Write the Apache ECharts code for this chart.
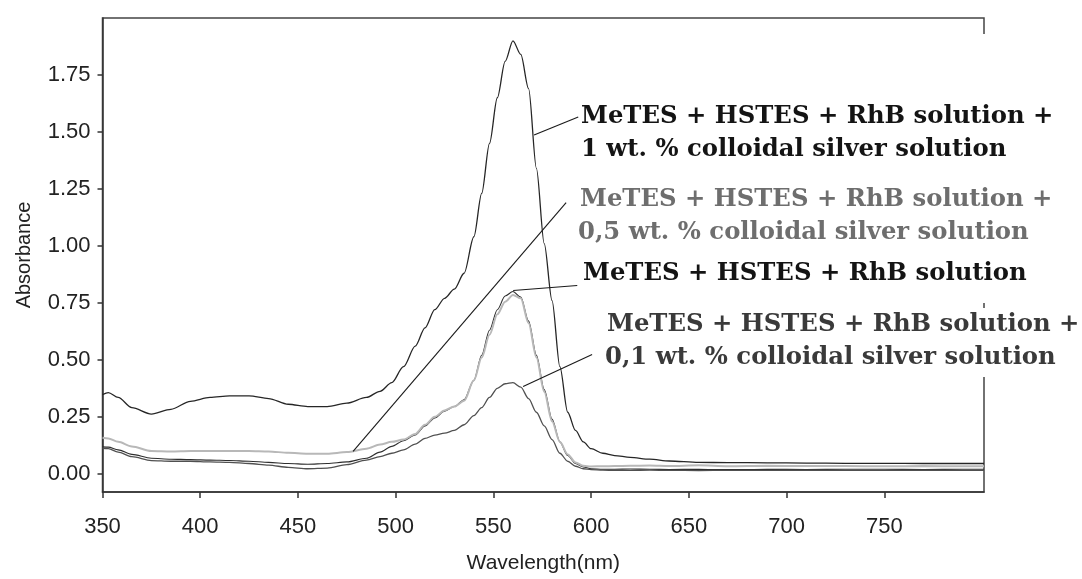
<!DOCTYPE html>
<html>
<head>
<meta charset="utf-8">
<script src="https://cdn.jsdelivr.net/npm/echarts@6/dist/echarts.min.js"></script>
<style>
  html, body { margin: 0; padding: 0; background: #fff; }
  #chart { width: 1082px; height: 579px; }
</style>
</head>
<body>
<div id="chart"></div>
<script>
// Wavelength grid (nm) shared by every spectrum
const wavelengths = [350, 353, 358, 365, 375, 385, 395, 405, 415, 425, 435, 445, 455, 465, 475, 485, 492, 498, 504, 510, 515, 520, 525, 530, 535, 540, 544, 548, 552, 556, 560, 564, 568, 572, 576, 580, 584, 588, 592, 596, 600, 606, 612, 620, 630, 640, 655, 670, 690, 710, 730, 750, 770, 790, 801];

// Absorbance spectra
const silver1 = [0.347, 0.356, 0.335, 0.29, 0.262, 0.283, 0.318, 0.335, 0.342, 0.342, 0.33, 0.305, 0.295, 0.295, 0.31, 0.335, 0.362, 0.40, 0.47, 0.56, 0.64, 0.72, 0.77, 0.81, 0.88, 1.04, 1.23, 1.45, 1.65, 1.81, 1.90, 1.84, 1.69, 1.34, 1.01, 0.76, 0.47, 0.27, 0.19, 0.14, 0.11, 0.09, 0.08, 0.072, 0.064, 0.056, 0.05, 0.049, 0.048, 0.047, 0.046, 0.046, 0.045, 0.045, 0.045];
const silver05 = [0.158, 0.155, 0.14, 0.12, 0.10, 0.098, 0.10, 0.10, 0.10, 0.10, 0.098, 0.092, 0.088, 0.088, 0.095, 0.11, 0.128, 0.14, 0.15, 0.175, 0.215, 0.25, 0.278, 0.295, 0.32, 0.41, 0.51, 0.61, 0.70, 0.755, 0.785, 0.77, 0.66, 0.51, 0.36, 0.23, 0.14, 0.085, 0.05, 0.035, 0.032, 0.033, 0.034, 0.035, 0.036, 0.034, 0.037, 0.033, 0.035, 0.034, 0.034, 0.033, 0.034, 0.033, 0.033];
const noSilver = [0.118, 0.117, 0.105, 0.085, 0.068, 0.064, 0.062, 0.06, 0.058, 0.055, 0.05, 0.045, 0.042, 0.045, 0.052, 0.068, 0.095, 0.12, 0.145, 0.17, 0.21, 0.245, 0.275, 0.295, 0.325, 0.41, 0.52, 0.63, 0.72, 0.78, 0.80, 0.775, 0.67, 0.52, 0.37, 0.24, 0.14, 0.08, 0.045, 0.03, 0.022, 0.02, 0.02, 0.021, 0.02, 0.019, 0.02, 0.018, 0.02, 0.019, 0.02, 0.02, 0.019, 0.02, 0.02];
const silver01 = [0.112, 0.11, 0.095, 0.075, 0.058, 0.055, 0.055, 0.052, 0.05, 0.045, 0.038, 0.028, 0.022, 0.025, 0.04, 0.06, 0.075, 0.09, 0.105, 0.13, 0.155, 0.17, 0.178, 0.19, 0.215, 0.255, 0.29, 0.335, 0.375, 0.395, 0.40, 0.38, 0.33, 0.27, 0.21, 0.15, 0.09, 0.055, 0.033, 0.022, 0.018, 0.016, 0.015, 0.015, 0.016, 0.015, 0.014, 0.015, 0.015, 0.016, 0.015, 0.015, 0.016, 0.015, 0.015];

// Tick values
const xTicks = [350, 400, 450, 500, 550, 600, 650, 700, 750];
const yTicks = [0, 0.25, 0.5, 0.75, 1.0, 1.25, 1.5, 1.75];

// Leader lines from each curve to its caption: [wavelength, absorbance] pairs
const leader1 = [[570.8, 1.487], [593.4, 1.566]];
const leader05 = [[587.2, 1.19], [478.2, 0.098]];
const leader0 = [[560.1, 0.804], [592.9, 0.826]];
const leader01 = [[565.2, 0.383], [600.5, 0.523]];

// Caption lines
const captionFull = 'MeTES + HSTES + RhB solution +';
const captionBase = 'MeTES + HSTES + RhB solution';
const caption1 = '1 wt. % colloidal silver solution';
const caption05 = '0,5 wt. % colloidal silver solution';
const caption01 = '0,1 wt. % colloidal silver solution';

const pairs = (ys) => wavelengths.map((x, i) => [x, ys[i]]);

const chart = echarts.init(document.getElementById('chart'), null, { renderer: 'canvas' });

const sansFont = '"Liberation Sans", Arial, sans-serif';
const serifFont = '"DejaVu Serif", serif';

function spectrum(name, ys, color, width, z) {
  return {
    name: name,
    type: 'line',
    data: pairs(ys),
    showSymbol: false,
    smooth: 0.3,
    smoothMonotone: 'x',
    z: z,
    lineStyle: { color: color, width: width },
    emphasis: { disabled: true }
  };
}

function leaderLine(pts) {
  return [{ coord: pts[0] }, { coord: pts[1] }];
}

function caption(text, x, y, color) {
  return {
    type: 'text',
    z: 20,
    style: {
      x: x, y: y,
      text: text,
      fill: color,
      font: 'bold 24.3px ' + serifFont,
      textAlign: 'left',
      textVerticalAlign: 'middle'
    }
  };
}

const option = {
  backgroundColor: '#ffffff',
  animation: false,
  grid: {
    left: 102.5, top: 18, right: 98, bottom: 87,
    show: true, borderColor: '#444', borderWidth: 1.5, backgroundColor: 'transparent'
  },
  xAxis: {
    type: 'value',
    min: 350, max: 801, interval: 50,
    name: 'Wavelength(nm)',
    nameLocation: 'middle',
    nameGap: 61,
    nameTextStyle: { fontFamily: sansFont, fontSize: 21, color: '#222' },
    axisLine: { show: true, onZero: false, lineStyle: { color: '#333', width: 1.5 } },
    axisTick: { show: true, inside: false, length: 6, customValues: xTicks, lineStyle: { color: '#333', width: 1.5 } },
    axisLabel: {
      fontFamily: sansFont, fontSize: 22, color: '#222', margin: 24,
      customValues: xTicks,
      formatter: (v) => String(v)
    },
    splitLine: { show: false }
  },
  yAxis: {
    type: 'value',
    min: -0.08, max: 2.0,
    name: 'Absorbance',
    nameLocation: 'middle',
    nameGap: 68,
    nameTextStyle: { fontFamily: sansFont, fontSize: 20, color: '#222' },
    axisLine: { show: true, onZero: false, lineStyle: { color: '#333', width: 1.5 } },
    axisTick: { show: true, length: 5, customValues: yTicks, lineStyle: { color: '#333', width: 1.5 } },
    axisLabel: {
      fontFamily: sansFont, fontSize: 22, color: '#222', margin: 12,
      customValues: yTicks,
      formatter: (v) => v.toFixed(2)
    },
    splitLine: { show: false }
  },
  series: [
    spectrum('MeTES + HSTES + RhB solution + 1 wt. % colloidal silver solution', silver1, '#262626', 1.3, 3),
    spectrum('MeTES + HSTES + RhB solution', noSilver, '#2e2e2e', 1.1, 3),
    spectrum('MeTES + HSTES + RhB solution + 0,5 wt. % colloidal silver solution', silver05, '#b8b8b8', 2, 4),
    spectrum('MeTES + HSTES + RhB solution + 0,1 wt. % colloidal silver solution', silver01, '#505050', 1.3, 3),
    {
      name: 'leaders',
      type: 'line',
      data: [],
      z: 5,
      markLine: {
        silent: true,
        symbol: ['none', 'none'],
        label: { show: false },
        lineStyle: { color: '#1a1a1a', width: 1.1, type: 'solid' },
        emphasis: { disabled: true },
        data: [leaderLine(leader1), leaderLine(leader05), leaderLine(leader0), leaderLine(leader01)]
      }
    }
  ],
  graphic: [
    // caption boxes mask the right frame edge behind them
    { type: 'rect', z: 15, shape: { x: 975, y: 34, width: 20, height: 269 }, style: { fill: '#fff' } },
    { type: 'rect', z: 15, shape: { x: 975, y: 308, width: 20, height: 69 }, style: { fill: '#fff' } },
    caption(captionFull, 581, 117, '#141414'),
    caption(caption1, 581, 150, '#141414'),
    caption(captionFull, 580, 200, '#6e6e6e'),
    caption(caption05, 578, 233, '#6e6e6e'),
    caption(captionBase, 583, 274, '#141414'),
    caption(captionFull, 607, 325, '#3a3a3a'),
    caption(caption01, 605, 358, '#3a3a3a')
  ]
};

chart.setOption(option);
</script>
</body>
</html>
